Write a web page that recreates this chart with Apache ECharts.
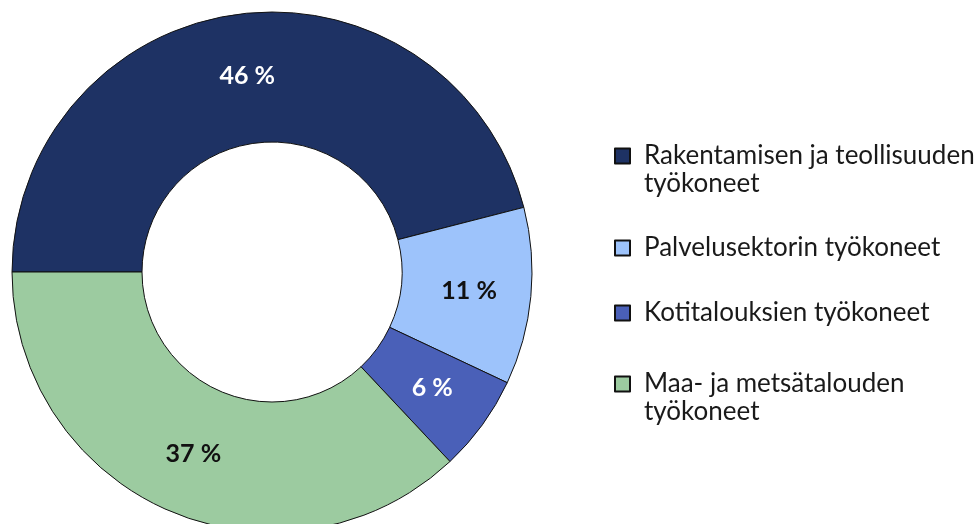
<!DOCTYPE html>
<html>
<head>
<meta charset="utf-8">
<script src="https://cdn.jsdelivr.net/npm/echarts@6/dist/echarts.min.js"></script>
<style>
  html, body { margin: 0; padding: 0; background: #fff; }
  #chart { width: 976px; height: 524px; }
</style>
</head>
<body>
<div id="chart"></div>
<script>
// Data
const categories = [
  'Rakentamisen ja teollisuuden\ntyökoneet',
  'Palvelusektorin työkoneet',
  'Kotitalouksien työkoneet',
  'Maa- ja metsätalouden\ntyökoneet'
];
const shares = [46, 11, 6, 37];
const colors = ['#1e3264', '#9dc3fb', '#4a60b8', '#9ccba0'];
const labelColors = ['#ffffff', '#111111', '#ffffff', '#111111'];

const font = 'Lato';
const lineH = 28;
// icon centre y of each legend entry
const legendY = [156, 248, 313, 384];

// one legend per entry so each can sit exactly where the reference has it;
// two-line names get a blank line on top so the icon lines up with line one
const legends = categories.map((name, i) => {
  const twoLines = name.indexOf('\n') >= 0;
  const boxH = twoLines ? lineH * 3 : lineH;
  return {
    orient: 'vertical',
    left: 614,
    top: legendY[i] - boxH / 2,
    padding: 0,
    itemWidth: 15,
    itemHeight: 15,
    icon: 'rect',
    selectedMode: false,
    data: [name],
    formatter: n => (n.indexOf('\n') >= 0 ? ' \n' + n : n),
    textStyle: { fontFamily: font, fontSize: 26, lineHeight: lineH, color: '#1a1a1a', padding: [0, 0, 0, 9] }
  };
});

const chart = echarts.init(document.getElementById('chart'));
chart.setOption({
  animation: false,
  legend: legends,
  series: [{
    type: 'pie',
    center: [272, 272],
    radius: [130, 260],
    startAngle: 180,
    clockwise: true,
    silent: true,
    itemStyle: { borderColor: '#111', borderWidth: 1 },
    label: {
      show: true,
      position: 'inside',
      formatter: '{c} %',
      fontFamily: font,
      fontWeight: 'bold',
      fontSize: 25
    },
    labelLine: { show: false },
    data: categories.map((name, i) => ({
      name: name,
      value: shares[i],
      itemStyle: { color: colors[i] },
      label: { color: labelColors[i] }
    }))
  }]
});
</script>
</body>
</html>
